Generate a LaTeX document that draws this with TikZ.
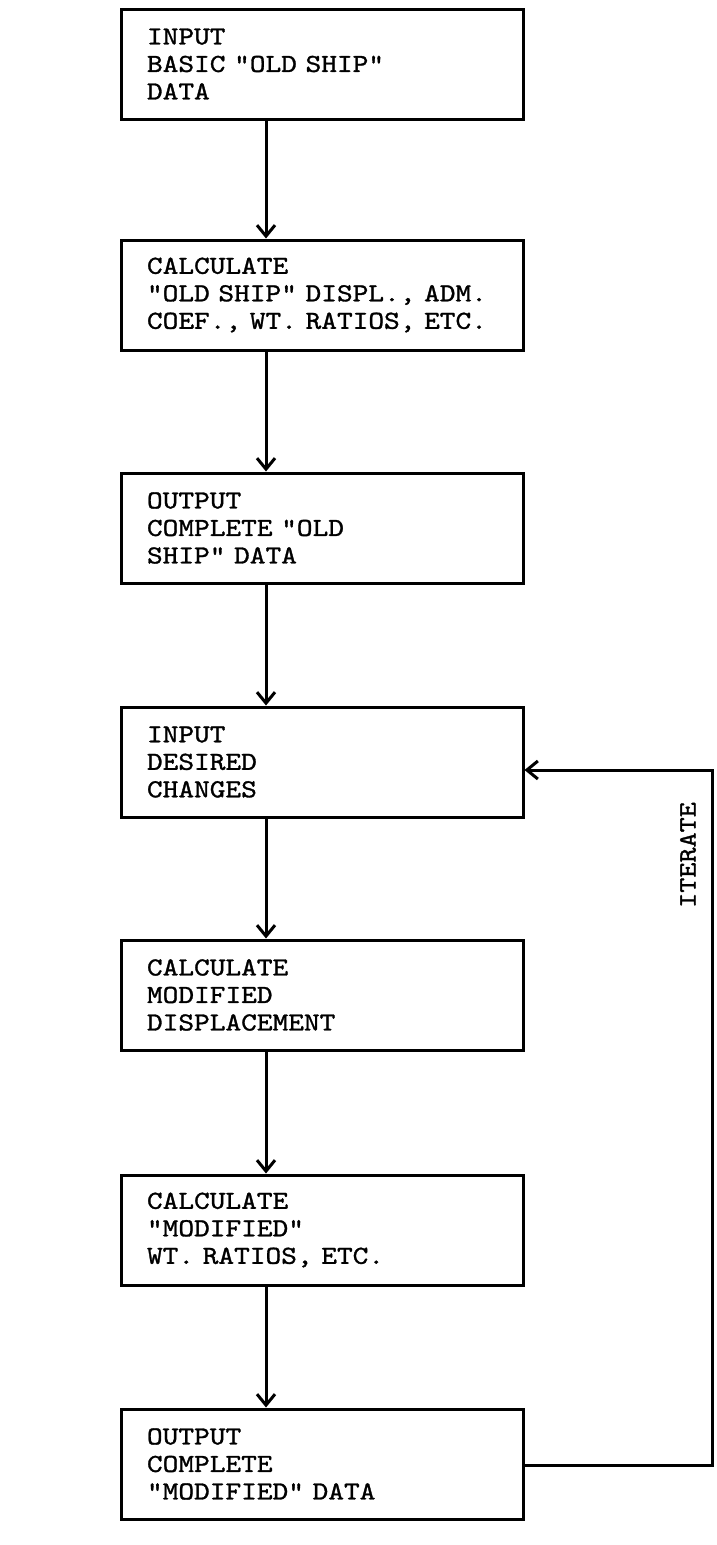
\documentclass[tikz,border=0pt]{standalone}
\usepackage{fontspec}
\newfontfamily\typewriter{lmmono10-regular.otf}[FakeStretch=1.15,FakeBold=1.2]
\usetikzlibrary{arrows.meta}
\begin{document}
\begin{tikzpicture}[x=1pt,y=-1pt,
  box/.style={draw,line width=3pt,rectangle,minimum width=402pt,minimum height=110pt,
    text width=350pt,inner xsep=26pt,align=left,
    font=\typewriter\fontsize{26}{27.5}\selectfont},
  flow/.style={line width=3pt,-{Straight Barb[length=11pt,width=18pt,line width=3pt]}}]
\useasboundingbox (0,0) rectangle (717,1545);
\node[box] (b1) at (322,64) {INPUT\\BASIC "OLD SHIP"\\DATA};
\node[box] (b2) at (322,295) {CALCULATE\\"OLD SHIP" DISPL., ADM.\\COEF., WT. RATIOS, ETC.};
\node[box] (b3) at (322,528) {OUTPUT\\COMPLETE "OLD\\SHIP" DATA};
\node[box] (b4) at (322,762) {INPUT\\DESIRED\\CHANGES};
\node[box] (b5) at (322,995) {CALCULATE\\MODIFIED\\DISPLACEMENT};
\node[box] (b6) at (322,1230) {CALCULATE\\"MODIFIED"\\WT. RATIOS, ETC.};
\node[box] (b7) at (322,1464) {OUTPUT\\COMPLETE\\"MODIFIED" DATA};
\foreach \a/\b in {b1/b2,b2/b3,b3/b4,b4/b5,b5/b6,b6/b7}
  \draw[flow] (\a.south -| 266,0) -- (\b.north -| 266,0);
\coordinate (r1) at (712,1465);
\coordinate (r2) at (712,770);
\draw[flow] (b7.east |- r1) -- (r1) -- (r2) -- (b4.east |- r2);
\node[rotate=90,font=\typewriter\fontsize{25}{26}\selectfont] (it) at (688,855) {ITERATE};
\end{tikzpicture}
\end{document}
